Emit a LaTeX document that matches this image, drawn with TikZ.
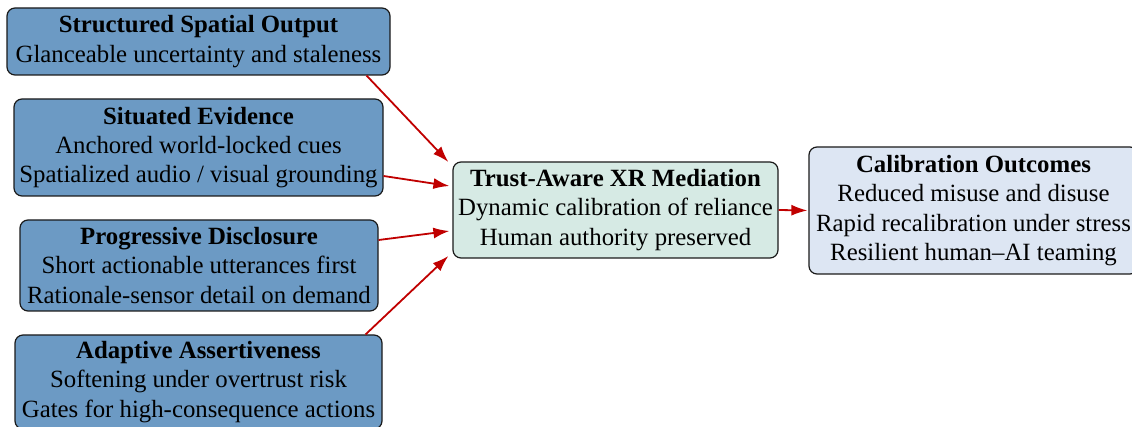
\documentclass[tikz,border=0pt]{standalone}
\usepackage{fontspec}
\setmainfont{Liberation Serif}
\usetikzlibrary{arrows.meta,calc}
\definecolor{boxblue}{HTML}{6C9AC4}
\definecolor{midfill}{HTML}{D6EAE4}
\definecolor{outfill}{HTML}{DDE6F3}
\definecolor{arrowred}{HTML}{C00000}
\definecolor{edgecol}{HTML}{1A1A1A}
\begin{document}
\begin{tikzpicture}[x=0.5pt,y=-0.5pt,
  box/.style={draw=edgecol, line width=0.6pt, rounded corners=4pt, align=center, inner sep=0pt,
    font=\fontsize{12.4}{14.7}\selectfont},
  src/.style={box, fill=boxblue},
  link/.style={draw=arrowred, line width=0.9pt, -{Latex[length=8pt,width=5.5pt]}}]
\useasboundingbox (0,0) rectangle (1132,427);
\node[src, minimum width=191.5pt, minimum height=33.5pt] (b1) at (198.5,41.5)
  {\textbf{Structured Spatial Output}\\Glanceable uncertainty and staleness};
\node[src, minimum width=184.5pt, minimum height=48.5pt] (b2) at (198.5,147.5)
  {\textbf{Situated Evidence}\\Anchored world-locked cues\\Spatialized audio / visual grounding};
\node[src, minimum width=179pt, minimum height=45.5pt] (b3) at (199,265.5)
  {\textbf{Progressive Disclosure}\\Short actionable utterances first\\Rationale-sensor detail on demand};
\node[src, minimum width=183.5pt, minimum height=47pt] (b4) at (198.5,382)
  {\textbf{Adaptive Assertiveness}\\Softening under overtrust risk\\Gates for high-consequence actions};
\node[box, fill=midfill, minimum width=162.5pt, minimum height=48pt] (cm) at (615.5,210)
  {\textbf{Trust-Aware XR Mediation}\\Dynamic calibration of reliance\\Human authority preserved};
\node[box, fill=outfill, minimum width=164.5pt, minimum height=63.5pt] (rb) at (973.5,210.5)
  {\textbf{Calibration Outcomes}\\Reduced misuse and disuse\\Rapid recalibration under stress\\Resilient human--AI teaming};
\draw[link] ($(b1.south east)+(-24,0)$) -- ($(cm.west)+(-4,-48)$);
\draw[link] ($(b2.east)+(0,28.5)$) -- ($(cm.west)+(-3,-24)$);
\draw[link] ($(b3.east)+(0,-25.5)$) -- ($(cm.west)+(-3,21)$);
\draw[link] ($(b4.north east)+(-17,0)$) -- ($(cm.west)+(-4,46)$);
\draw[link, shorten >=0.5pt] (cm.east) -- (rb.west);
\end{tikzpicture}
\end{document}
